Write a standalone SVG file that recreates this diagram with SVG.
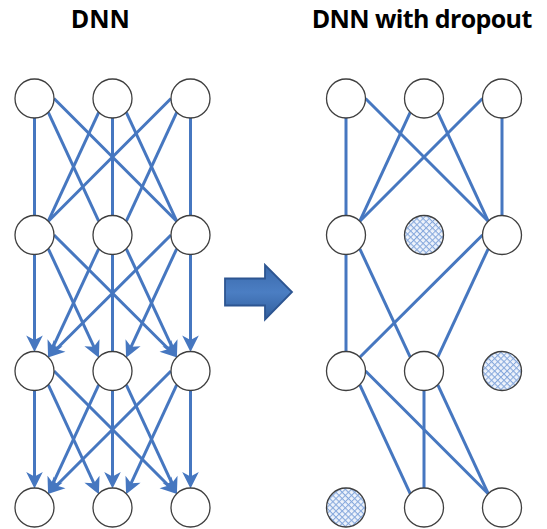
<svg xmlns="http://www.w3.org/2000/svg" width="547" height="529" viewBox="0 0 547 529">
<style>
.title{font-family:"Open Sans","Liberation Sans",sans-serif;font-weight:700;font-size:25px;fill:#000}
.ln{stroke:#4677c0;stroke-width:3;fill:none}
.ar{marker-end:url(#ah)}
.nd{fill:#fff;stroke:#3f3f3f;stroke-width:1.3}
.dr{fill:url(#hatch);stroke:#3f3f3f;stroke-width:1.3}
</style>
<defs>
<marker id="ah" markerUnits="userSpaceOnUse" markerWidth="22" markerHeight="22" viewBox="-11 -11 22 22" refX="0" refY="0" orient="auto">
<path d="M8.5,0 L-8,-8.3 L-3.5,0 L-8,8.3 Z" fill="#4677c0"/>
</marker>
<pattern id="hatch" patternUnits="userSpaceOnUse" width="4.4" height="4.4" patternTransform="rotate(45)">
<rect width="4.4" height="4.4" fill="#eef3fb"/>
<path d="M0,0.5 H4.4 M0.5,0 V4.4" stroke="#86a8dc" stroke-width="1"/>
</pattern>
<linearGradient id="bg" x1="0" y1="0" x2="0" y2="1">
<stop offset="0" stop-color="#3a69ab"/>
<stop offset="0.5" stop-color="#4b7ec3"/>
<stop offset="1" stop-color="#315e9c"/>
</linearGradient>
</defs>
<rect width="547" height="529" fill="#fff"/>
<text class="title" x="100.3" y="28.3" text-anchor="middle">DNN</text>
<text class="title" x="311.7" y="28.3" textLength="220.6">DNN with dropout</text>

<g id="connectors">
<!-- left: row1 -> row2 -->
<line class="ln" x1="34.5" y1="118" x2="34.5" y2="215.5"/>
<line class="ln" x1="48.3" y1="112.3" x2="98.7" y2="221.2"/>
<line class="ln" x1="54" y1="98.5" x2="176.7" y2="221.2"/>
<line class="ln" x1="98.7" y1="112.3" x2="48.3" y2="221.2"/>
<line class="ln" x1="112.5" y1="118" x2="112.5" y2="215.5"/>
<line class="ln" x1="126.3" y1="112.3" x2="176.7" y2="221.2"/>
<line class="ln" x1="171" y1="98.5" x2="48.3" y2="221.2"/>
<line class="ln" x1="176.7" y1="112.3" x2="126.3" y2="221.2"/>
<line class="ln" x1="190.5" y1="118" x2="190.5" y2="215.5"/>
<!-- left: row2 -> row3 -->
<line class="ln ar" x1="34.5" y1="254.5" x2="34.5" y2="343.5"/>
<line class="ln ar" x1="48.3" y1="248.8" x2="95.33" y2="349.94"/>
<line class="ln ar" x1="54" y1="235" x2="171.03" y2="351.56"/>
<line class="ln ar" x1="98.7" y1="248.8" x2="51.67" y2="349.94"/>
<line class="ln" x1="112.5" y1="254.5" x2="112.5" y2="351.5"/>
<line class="ln ar" x1="126.3" y1="248.8" x2="173.33" y2="349.94"/>
<line class="ln ar" x1="171" y1="235" x2="53.97" y2="351.56"/>
<line class="ln ar" x1="176.7" y1="248.8" x2="129.67" y2="349.94"/>
<line class="ln ar" x1="190.5" y1="254.5" x2="190.5" y2="343.5"/>
<!-- left: row3 -> row4 -->
<line class="ln ar" x1="34.5" y1="390.5" x2="34.5" y2="480"/>
<line class="ln ar" x1="48.3" y1="384.8" x2="95.34" y2="486.44"/>
<line class="ln ar" x1="54" y1="371" x2="171.04" y2="488.04"/>
<line class="ln ar" x1="98.7" y1="384.8" x2="51.66" y2="486.44"/>
<line class="ln ar" x1="112.5" y1="390.5" x2="112.5" y2="480"/>
<line class="ln ar" x1="126.3" y1="384.8" x2="173.34" y2="486.44"/>
<line class="ln ar" x1="171" y1="371" x2="53.96" y2="488.04"/>
<line class="ln ar" x1="176.7" y1="384.8" x2="129.66" y2="486.44"/>
<line class="ln ar" x1="190.5" y1="390.5" x2="190.5" y2="480"/>
<!-- right: row1 -> row2 -->
<line class="ln" x1="346" y1="118" x2="346" y2="215.5"/>
<line class="ln" x1="365.5" y1="98.5" x2="488.2" y2="221.2"/>
<line class="ln" x1="410.2" y1="112.3" x2="359.8" y2="221.2"/>
<line class="ln" x1="437.8" y1="112.3" x2="488.2" y2="221.2"/>
<line class="ln" x1="482.5" y1="98.5" x2="359.8" y2="221.2"/>
<line class="ln" x1="502" y1="118" x2="502" y2="215.5"/>
<!-- right: row2 -> row3 -->
<line class="ln" x1="346" y1="254.5" x2="346" y2="351.5"/>
<line class="ln" x1="359.8" y1="248.8" x2="410.2" y2="357.2"/>
<line class="ln" x1="482.5" y1="235" x2="359.8" y2="357.2"/>
<line class="ln" x1="488.2" y1="248.8" x2="437.8" y2="357.2"/>
<!-- right: row3 -> row4 -->
<line class="ln" x1="359.8" y1="384.8" x2="410.2" y2="493.7"/>
<line class="ln" x1="365.5" y1="371" x2="488.2" y2="493.7"/>
<line class="ln" x1="424" y1="390.5" x2="424" y2="488"/>
<line class="ln" x1="437.8" y1="384.8" x2="488.2" y2="493.7"/>
</g>

<g id="dnn-l1-1"><circle class="nd" cx="34.5" cy="98.5" r="19.5"/></g>
<g id="dnn-l1-2"><circle class="nd" cx="112.5" cy="98.5" r="19.5"/></g>
<g id="dnn-l1-3"><circle class="nd" cx="190.5" cy="98.5" r="19.5"/></g>
<g id="dnn-l2-1"><circle class="nd" cx="34.5" cy="235" r="19.5"/></g>
<g id="dnn-l2-2"><circle class="nd" cx="112.5" cy="235" r="19.5"/></g>
<g id="dnn-l2-3"><circle class="nd" cx="190.5" cy="235" r="19.5"/></g>
<g id="dnn-l3-1"><circle class="nd" cx="34.5" cy="371" r="19.5"/></g>
<g id="dnn-l3-2"><circle class="nd" cx="112.5" cy="371" r="19.5"/></g>
<g id="dnn-l3-3"><circle class="nd" cx="190.5" cy="371" r="19.5"/></g>
<g id="dnn-l4-1"><circle class="nd" cx="34.5" cy="507.5" r="19.5"/></g>
<g id="dnn-l4-2"><circle class="nd" cx="112.5" cy="507.5" r="19.5"/></g>
<g id="dnn-l4-3"><circle class="nd" cx="190.5" cy="507.5" r="19.5"/></g>

<g id="drop-l1-1"><circle class="nd" cx="346" cy="98.5" r="19.5"/></g>
<g id="drop-l1-2"><circle class="nd" cx="424" cy="98.5" r="19.5"/></g>
<g id="drop-l1-3"><circle class="nd" cx="502" cy="98.5" r="19.5"/></g>
<g id="drop-l2-1"><circle class="nd" cx="346" cy="235" r="19.5"/></g>
<g id="drop-l2-2"><circle class="dr" cx="424" cy="235" r="19.5"/></g>
<g id="drop-l2-3"><circle class="nd" cx="502" cy="235" r="19.5"/></g>
<g id="drop-l3-1"><circle class="nd" cx="346" cy="371" r="19.5"/></g>
<g id="drop-l3-2"><circle class="nd" cx="424" cy="371" r="19.5"/></g>
<g id="drop-l3-3"><circle class="dr" cx="502" cy="371" r="19.5"/></g>
<g id="drop-l4-1"><circle class="dr" cx="346" cy="507.5" r="19.5"/></g>
<g id="drop-l4-2"><circle class="nd" cx="424" cy="507.5" r="19.5"/></g>
<g id="drop-l4-3"><circle class="nd" cx="502" cy="507.5" r="19.5"/></g>

<g id="big-arrow">
<path d="M225,278.5 H265 V265 L292,292 L265,319.5 V305.5 H225 Z" fill="url(#bg)" stroke="#2d5591" stroke-width="1.8" stroke-linejoin="miter"/>
</g>
</svg>
